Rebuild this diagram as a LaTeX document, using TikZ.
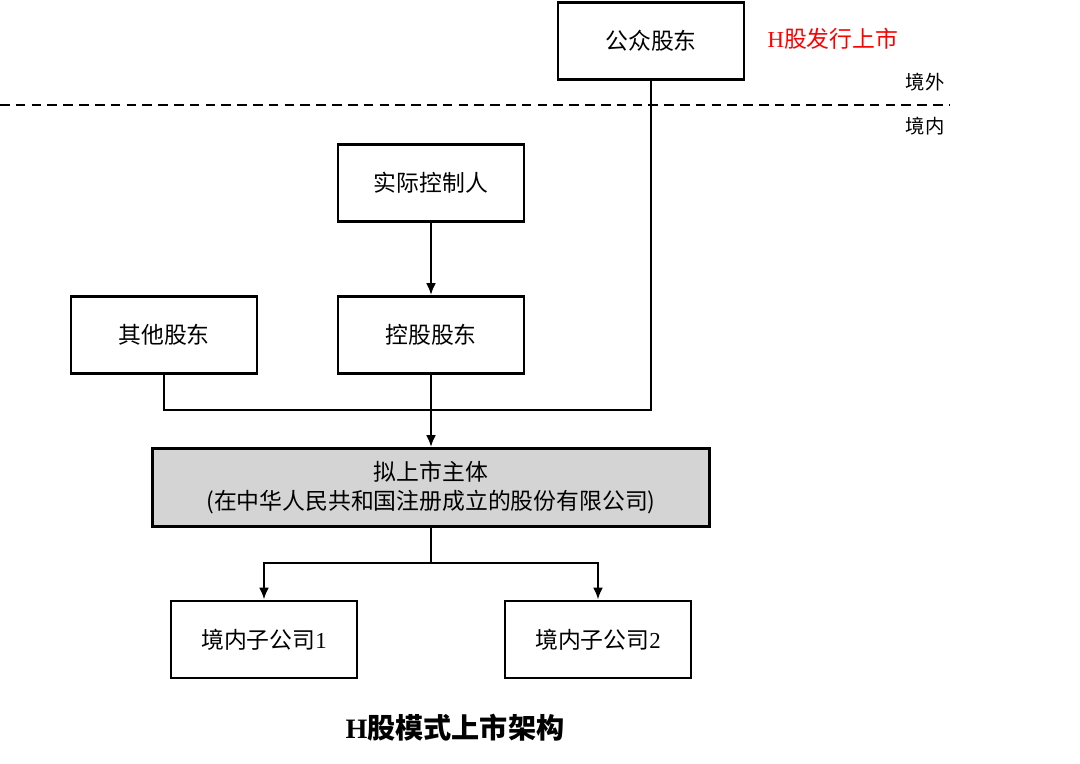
\documentclass[tikz,border=0pt]{standalone}
\usepackage{fontspec}
\setmainfont{Liberation Serif}
\newfontfamily\cjk{Noto Sans CJK SC}
\usetikzlibrary{arrows.meta}

\begin{document}
\begin{tikzpicture}[x=0.02cm, y=-0.02cm,
    box/.style   = {draw, line width=1.6pt, minimum width=3.72cm, minimum height=1.54cm,
                    font=\fontsize{13}{17}\selectfont, align=center},
    link/.style  = {line width=1.4pt},
    arr/.style   = {link, -{Latex[length=2.4mm, width=2mm]}}]
  \useasboundingbox (0,0) rectangle (1080,764);

  % offshore
  \node[box] (gz)  at (651, 41)  {\cjk 公众股东};
  \node[text=red, font=\fontsize{13}{17}\selectfont] (hfx) at (833, 39) {H{\cjk 股发行上市}};
  \draw[line width=1.2pt, dash pattern=on 5.5pt off 3.5pt] (0,105) -- (950,105);
  \node[font=\fontsize{11}{13}\selectfont\cjk] (jw) at (925, 82)  {境外};
  \node[font=\fontsize{11}{13}\selectfont\cjk] (jn) at (925, 126) {境内};

  % onshore
  \node[box] (skr) at (431, 183) {\cjk 实际控制人};
  \node[box] (qt)  at (164, 335) {\cjk 其他股东};
  \node[box] (kg)  at (431, 335) {\cjk 控股股东};
  \node[box, fill=black!17, minimum width=11.14cm, minimum height=1.56cm]
        (ns) at (431, 487.5) {\cjk 拟上市主体\\\cjk (在中华人民共和国注册成立的股份有限公司)};
  \node[box] (zg1) at (264, 639.5) {{\cjk 境内子公司}1};
  \node[box] (zg2) at (598, 639.5) {{\cjk 境内子公司}2};
  \node[font=\fontsize{16}{20}\selectfont\bfseries] (tt) at (455, 728) {H{\cjk\bfseries 股模式上市架构}};

  \coordinate (join)  at (431, 410);
  \coordinate (split) at (431, 563);

  \draw[arr]  (skr) -- (kg);
  \draw[link] (qt.south) |- (join) -| (gz.south);
  \draw[arr]  (kg) -- (ns);
  \draw[link] (ns.south) -- (split);
  \draw[arr]  (split) -| (zg1.north);
  \draw[arr]  (split) -| (zg2.north);
\end{tikzpicture}
\end{document}
